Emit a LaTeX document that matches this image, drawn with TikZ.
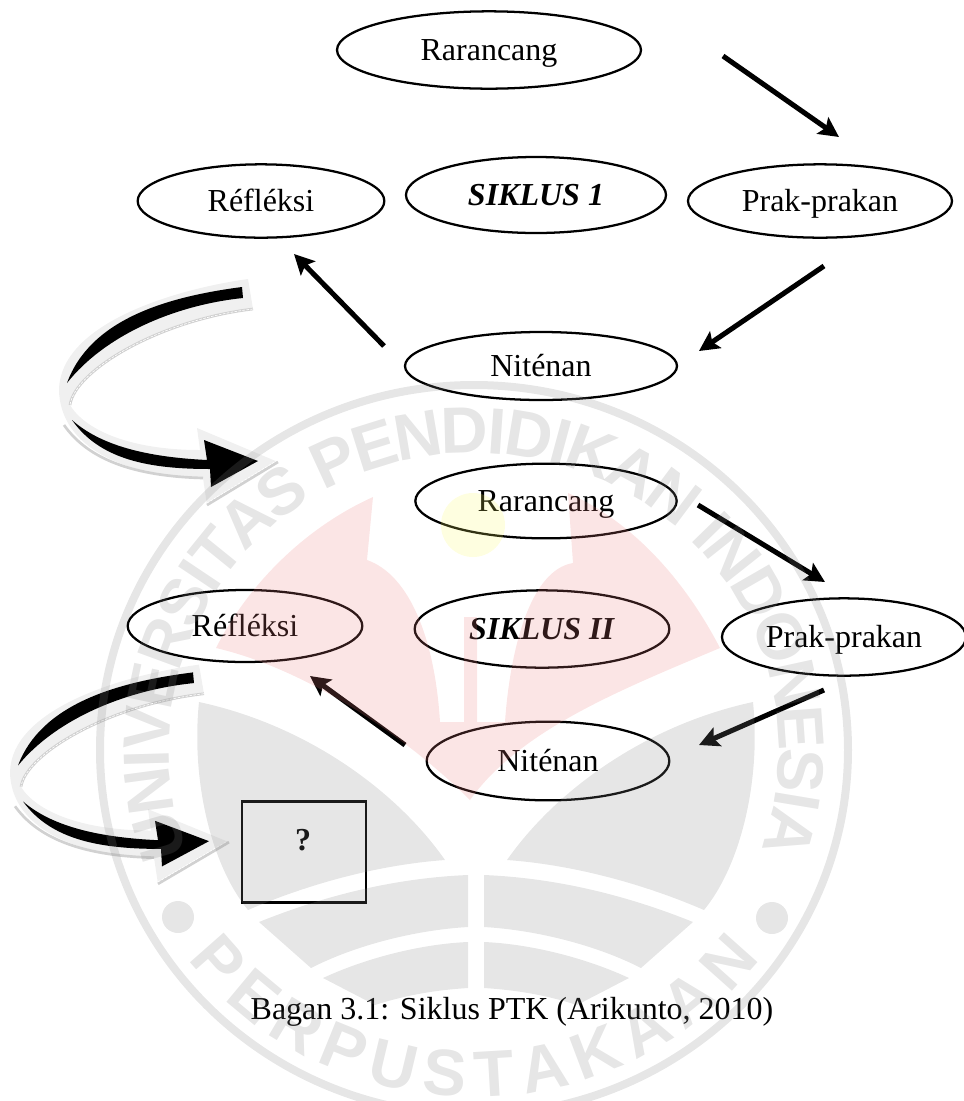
\documentclass[tikz,border=0pt]{standalone}
\usepackage{fontspec}
\setmainfont{Liberation Serif}
\newfontfamily\wmfamily{Liberation Sans}
\usetikzlibrary{shapes.geometric,arrows.meta,decorations.text}
\definecolor{wmgray}{RGB}{130,130,130}
\definecolor{wmred}{RGB}{235,125,125}
\definecolor{wmyellow}{RGB}{250,250,100}
\newcommand{\wmfont}{\wmfamily\bfseries\fontsize{49}{49}\selectfont\color{wmgray}}
\tikzset{
  siklusnode/.style={draw,ellipse,line width=1.7pt,inner sep=0pt,text height=16.8pt,text depth=1.2pt,font=\fontsize{24}{28}\selectfont},
  flowarrow/.style={line width=3.8pt,-{Stealth[length=15pt,width=15pt,inset=3pt]}},
  bevelline/.style={draw=black!18,line width=2pt},
  bevelstitch/.style={draw=white,line width=.5pt,dash pattern=on 2pt off 1pt},
}
% curved block arrow, drawn at the place of the first one
\newcommand{\bentarrow}{
  \fill[black!6] (248,279) .. controls (170,290) and (60,325) .. (59,390)
    .. controls (60,440) and (110,475) .. (203,478) -- (207,505) -- (278,462) -- (197,428) -- (200,450)
    .. controls (130,450) and (85,430) .. (70,405)
    .. controls (75,370) and (160,320) .. (253,309) -- cycle;
  \draw[bevelline] (253,309) .. controls (160,320) and (75,370) .. (70,405);
  \draw[bevelstitch] (253,309) .. controls (160,320) and (75,370) .. (70,405);
  \draw[bevelline] (64,425) .. controls (85,455) and (125,476) .. (203,478);
  \draw[bevelline] (207,505) -- (278,462);
  \draw[bevelstitch] (207,503) -- (276,461);
  \fill (242,287) .. controls (165,297) and (90,320) .. (67,383)
    .. controls (105,335) and (175,305) .. (243,298) -- cycle;
  \fill (72,420) .. controls (100,445) and (145,457) .. (207,460) -- (204,440) -- (258,461) -- (211,487) -- (210,469)
    .. controls (150,469) and (100,460) .. (72,420) -- cycle;
}
\begin{document}
\begin{tikzpicture}[x=0.75pt,y=-0.75pt]
  \useasboundingbox (0,0) rectangle (964,1101);
  \clip (0,0) rectangle (964,1101);

  % first cycle
  \node[siklusnode,minimum width=228pt,minimum height=58pt] (rarOne) at (489,50) {Rarancang};
  \node[siklusnode,minimum width=185pt,minimum height=55pt] (refOne) at (261,201) {Réfléksi};
  \node[siklusnode,minimum width=195pt,minimum height=57pt] (sikOne) at (536,195) {\textbf{\textit{SIKLUS 1}}};
  \node[siklusnode,minimum width=198pt,minimum height=55pt] (prkOne) at (820,201) {Prak-prakan};
  \node[siklusnode,minimum width=204pt,minimum height=51pt] (nitOne) at (541,366) {Niténan};

  \coordinate (rarOneOut) at (723,56);
  \coordinate (prkOneIn) at (839,137);
  \coordinate (prkOneOut) at (824,266);
  \coordinate (nitOneIn) at (699,351);
  \coordinate (nitOneOut) at (384,346);
  \coordinate (refOneIn) at (294,254);
  \draw[flowarrow] (rarOneOut) -- (prkOneIn);
  \draw[flowarrow] (prkOneOut) -- (nitOneIn);
  \draw[flowarrow] (nitOneOut) -- (refOneIn);

  \bentarrow

  % second cycle
  \node[siklusnode,minimum width=196pt,minimum height=56pt] (rarTwo) at (546,501) {Rarancang};
  \node[siklusnode,minimum width=176pt,minimum height=54pt] (refTwo) at (245,626) {Réfléksi};
  \node[siklusnode,minimum width=191pt,minimum height=58pt] (sikTwo) at (542,629) {\textbf{\textit{SIKLUS II}}};
  \node[siklusnode,minimum width=183pt,minimum height=58pt] (prkTwo) at (844,637) {Prak-prakan};
  \node[siklusnode,minimum width=182pt,minimum height=59pt] (nitTwo) at (548,761) {Niténan};

  \coordinate (rarTwoOut) at (698,505);
  \coordinate (prkTwoIn) at (825,582);
  \coordinate (prkTwoOut) at (824,690);
  \coordinate (nitTwoIn) at (699,745);
  \coordinate (nitTwoOut) at (405,745);
  \coordinate (refTwoIn) at (310,676);
  \draw[flowarrow] (rarTwoOut) -- (prkTwoIn);
  \draw[flowarrow] (prkTwoOut) -- (nitTwoIn);
  \draw[flowarrow] (nitTwoOut) -- (refTwoIn);

  \begin{scope}[shift={(-49,394)},yscale=0.97]
    \bentarrow
  \end{scope}

  \node[draw,line width=1.9pt,minimum width=93pt,minimum height=76pt,inner sep=0pt] (hasil) at (304,852) {};
  \node[font=\fontsize{24}{28}\selectfont\bfseries] (tanya) at (303,840) {?};

  \node[font=\fontsize{24}{28}\selectfont] (caption) at (512,1012) {Bagan 3.1: Siklus PTK (Arikunto, 2010)};

  % watermark, laid over everything
  \begin{scope}[opacity=0.2]
    \fill[wmyellow] (473,525) circle (24pt);
    % red crest
    \fill[wmred] (216,648) .. controls (245,590) and (300,530) .. (373,497) -- (367,560)
      .. controls (410,575) and (435,640) .. (440,722) -- (464,722) -- (464,617) -- (477,617) -- (477,722) -- (505,722)
      .. controls (510,650) and (530,570) .. (573,563) -- (568,493)
      .. controls (640,525) and (690,590) .. (720,648)
      .. controls (620,690) and (520,730) .. (470,800)
      .. controls (410,740) and (310,670) .. (216,648) -- cycle;
    \foreach \sgn in {1,-1}{
      \begin{scope}[shift={(476,0)},xscale=\sgn]
        % leaf
        \fill[wmgray] (-277,702) .. controls (-170,725) and (-80,790) .. (-31,860)
          .. controls (-100,865) and (-170,885) .. (-228,910)
          .. controls (-265,865) and (-285,780) .. (-277,702) -- cycle;
        % upper band
        \fill[wmgray] (-8,875) .. controls (-80,878) and (-150,895) .. (-217,922) -- (-165,968)
          .. controls (-120,945) and (-60,930) .. (-8,927) -- cycle;
        % lower band
        \fill[wmgray] (-8,942) .. controls (-55,944) and (-110,958) .. (-153,978) -- (-101,1005)
          .. controls (-70,995) and (-40,990) .. (-8,988) -- cycle;
      \end{scope}
    }
    \fill[wmgray] (178,917) circle (12pt);
    \fill[wmgray] (772,918) circle (12pt);
    \begin{scope}[shift={(474,750)},x=0.75pt,y=0.75pt]
      \draw[wmgray,line width=6pt] (0,0) ellipse [x radius=280.5pt,y radius=273.75pt];
      \path[decorate,decoration={text along path,text align={fit to path},raise=-18.75pt,
        text={|\wmfont|UNIVERSITAS PENDIDIKAN INDONESIA}}]
        (200:247.5pt and 241.5pt) arc [start angle=200,end angle=-17,x radius=247.5pt,y radius=241.5pt];
      \path[decorate,decoration={text along path,text align={fit to path},
        text={|\wmfont|PERPUSTAKAAN}}]
        (217:268.5pt and 260.25pt) arc [start angle=217,end angle=323,x radius=268.5pt,y radius=260.25pt];
    \end{scope}
  \end{scope}
\end{tikzpicture}
\end{document}
